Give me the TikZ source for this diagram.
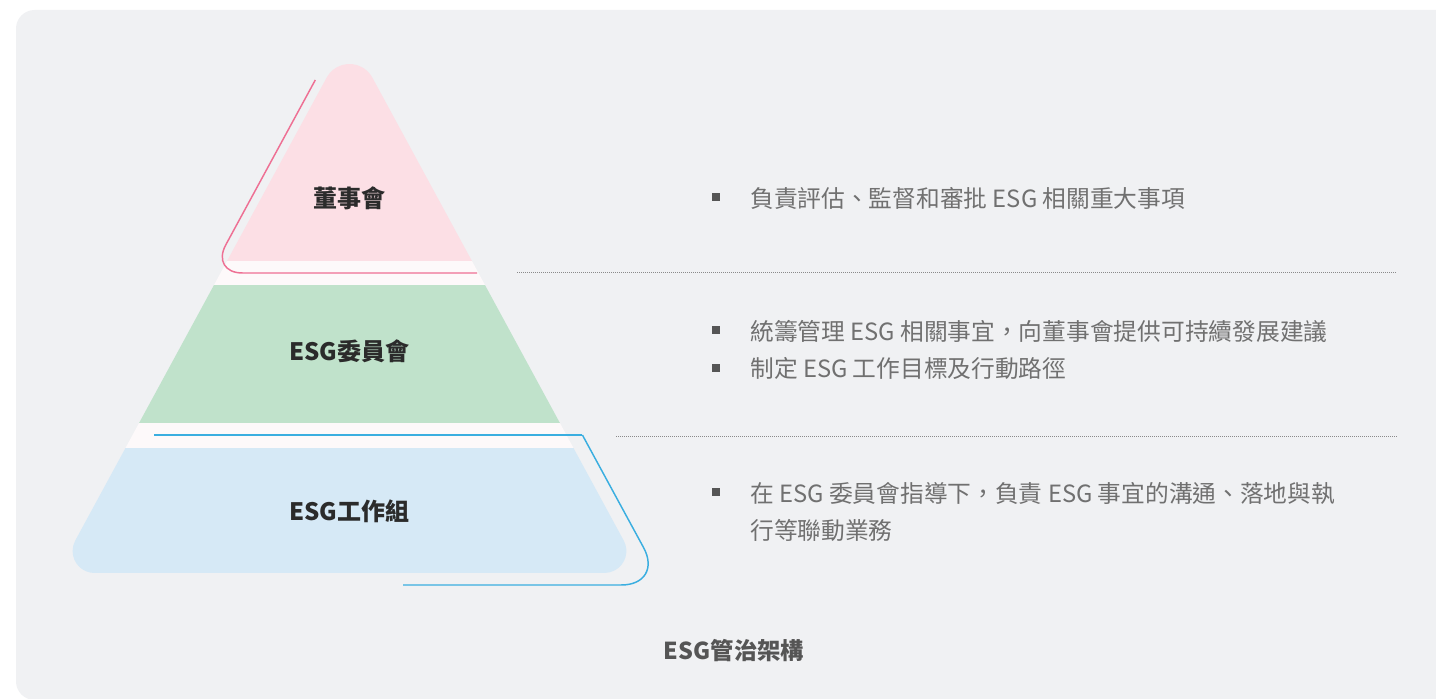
\documentclass[tikz,border=0pt]{standalone}
\usepackage{fontspec}
\setmainfont{Noto Sans CJK TC}
\newfontfamily\cjkfont{Noto Sans CJK TC}
\definecolor{panelc}{HTML}{F0F1F3}
\definecolor{pinkband}{HTML}{FCDFE5}
\definecolor{gapc}{HTML}{FDF9FA}
\definecolor{greenband}{HTML}{C0E2CB}
\definecolor{blueband}{HTML}{D6E9F6}
\definecolor{pinkline}{HTML}{EE7094}
\definecolor{blueline}{HTML}{3AAEE0}
\definecolor{bodytext}{HTML}{707070}
\definecolor{labeltext}{HTML}{2B2B2B}
\definecolor{titletext}{HTML}{555555}
\definecolor{bulletc}{HTML}{555555}
\definecolor{sepc}{HTML}{8A8A8A}
\begin{document}
\begin{tikzpicture}[x=0.75pt,y=0.75pt,
  lbl/.style={inner sep=0pt, text=labeltext, font=\cjkfont\bfseries\fontsize{18pt}{22pt}\selectfont},
  ttl/.style={inner sep=0pt, text=titletext, font=\cjkfont\bfseries\fontsize{17.5pt}{22pt}\selectfont},
  txt/.style={inner sep=0pt, anchor=west, text=bodytext, font=\cjkfont\fontsize{17.8pt}{22pt}\selectfont},
  bul/.style={inner sep=0pt, minimum size=5.4pt, fill=bulletc, draw=none, rectangle},
  sepline/.style={draw=sepc, line width=0.6pt, dash pattern=on 0.75pt off 0.75pt},
  pinkstroke/.style={draw=pinkline, line width=1.1pt},
  bluestroke/.style={draw=blueline, line width=1.1pt}]
\useasboundingbox (0,0) rectangle (1436,699);
\fill[white] (0,0) rectangle (1436,699);
\fill[panelc, rounded corners=14] (16,-1) rectangle (1470,689);
% pyramid
\begin{scope}
\clip (326.65,621.41) arc[start angle=151.5,end angle=28.5,radius=26]
  -- (623.7,158.5) arc[start angle=28.5,end angle=-90,radius=22]
  -- (94.6,126) arc[start angle=270,end angle=151.5,radius=22] -- cycle;
\fill[pinkband] (0,438) rectangle (700,700);
\fill[gapc] (0,414) rectangle (700,438);
\fill[greenband] (0,276) rectangle (700,414);
\fill[gapc] (0,251) rectangle (700,276);
\fill[blueband] (0,100) rectangle (700,251);
\end{scope}
% decorative strokes
\coordinate (p1) at (315.3,619);
\coordinate (p2) at (210.5,426);
\coordinate (p3) at (477,426);
\draw[pinkstroke, rounded corners=24] (p1) -- (p2) -- (p3);
\coordinate (q1) at (154,264);
\coordinate (q2) at (582.4,264);
\coordinate (q3) at (663.9,114);
\coordinate (q4) at (403,114);
\draw[bluestroke] (q1) -- (q2);
\draw[bluestroke, rounded corners=32] (q2) -- (q3) -- (q4);
% separators
\coordinate (s1a) at (517,427);
\coordinate (s1b) at (1397,427);
\coordinate (s2a) at (616,263);
\coordinate (s2b) at (1397,263);
\draw[sepline] (s1a) -- (s1b);
\draw[sepline] (s2a) -- (s2b);
% labels
\node[lbl] (l1) at (349.5,501) {董事會};
\node[lbl] (l2) at (349.5,348) {ESG委員會};
\node[lbl] (l3) at (349.5,188) {ESG工作組};
\node[ttl] (t) at (734,48) {ESG管治架構};
% bullets and texts
\node[bul] (b1) at (716,502) {};
\node[txt] (x1) at (750,501) {負責評估、監督和審批 ESG 相關重大事項};
\node[bul] (b2) at (716,369) {};
\node[txt] (x2) at (750,368) {統籌管理 ESG 相關事宜，向董事會提供可持續發展建議};
\node[bul] (b3) at (716,331) {};
\node[txt] (x3) at (750,330) {制定 ESG 工作目標及行動路徑};
\node[bul] (b4) at (716,207) {};
\node[txt] (x4) at (750,206) {在 ESG 委員會指導下，負責 ESG 事宜的溝通、落地與執};
\node[txt] (x5) at (750,169) {行等聯動業務};
\end{tikzpicture}
\end{document}
